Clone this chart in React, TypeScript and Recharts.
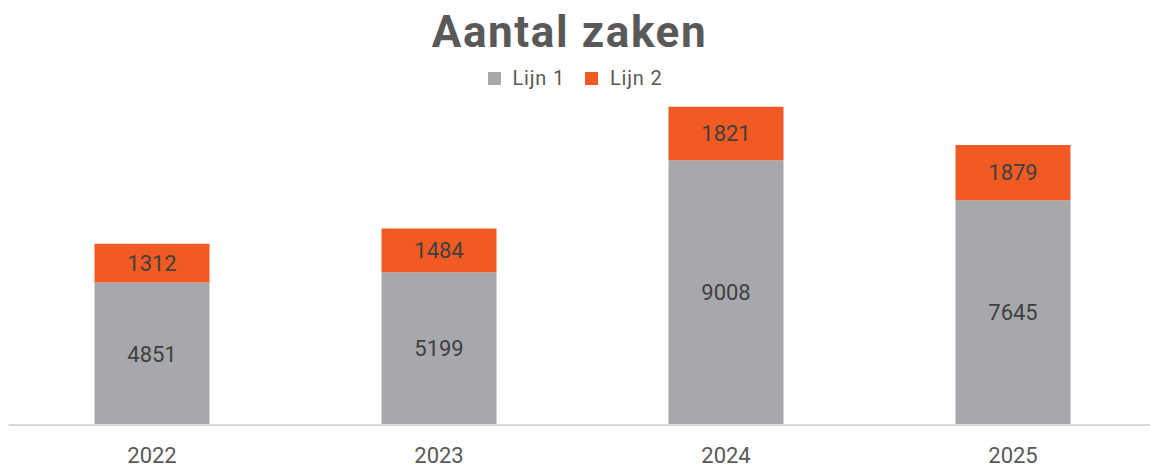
import { BarChart, Bar, XAxis, YAxis, Legend, LabelList } from 'recharts';

const years = ['2022', '2023', '2024', '2025'];
const lijn1 = [4851, 5199, 9008, 7645];
const lijn2 = [1312, 1484, 1821, 1879];

const GRAY = '#A7A8AB';
const ORANGE = '#F15A22';

const data = years.map((year, i) => ({ year, lijn1: lijn1[i], lijn2: lijn2[i] }));

const FONT = 'Roboto, "Open Sans", sans-serif';

const renderLegend = (props: any) => {
  const { payload } = props;
  return (
    <div style={{ display: 'flex', justifyContent: 'center', alignItems: 'center', gap: 20 }}>
      {payload.map((entry: any) => (
        <div key={entry.value} style={{ display: 'flex', alignItems: 'center' }}>
          <div style={{ width: 13, height: 13, backgroundColor: entry.color, marginRight: 12 }} />
          <span style={{ color: '#595959', fontSize: 20, letterSpacing: 0.8, lineHeight: '20px' }}>
            {entry.value}
          </span>
        </div>
      ))}
    </div>
  );
};

const App = () => {
  return (
    <div
      style={{
        position: 'relative',
        width: 1150,
        height: 467,
        overflow: 'hidden',
        background: '#fff',
        fontFamily: FONT,
      }}
    >
      <style>{`body { margin: 0; }`}</style>
      <div
        style={{
          position: 'absolute',
          left: 0,
          top: 10,
          width: 1139,
          textAlign: 'center',
          fontSize: 44,
          lineHeight: 1,
          fontWeight: 700,
          letterSpacing: 1.6,
          color: '#595959',
        }}
      >
        Aantal zaken
      </div>
      <BarChart
        width={1160}
        height={467}
        data={data}
        margin={{ top: 72.3, right: 3.5, left: 8.5, bottom: 0 }}
      >
        <XAxis
          dataKey="year"
          height={42}
          tickLine={false}
          tickSize={0}
          tickMargin={22}
          axisLine={{ stroke: '#D9D9D9', strokeWidth: 2 }}
          tick={{ fill: '#595959', fontSize: 22, fontFamily: FONT }}
        />
        <YAxis hide domain={[0, 12000]} />
        <Legend
          verticalAlign="middle"
          align="center"
          content={renderLegend}
          wrapperStyle={{ top: 68, left: 0, width: 1150, fontFamily: FONT }}
        />
        <Bar dataKey="lijn1" name="Lijn 1" stackId="a" fill={GRAY} barSize={115} isAnimationActive={false}>
          <LabelList dataKey="lijn1" position="center" fill="#404040" fontSize={22} fontFamily={FONT} />
        </Bar>
        <Bar dataKey="lijn2" name="Lijn 2" stackId="a" fill={ORANGE} barSize={115} isAnimationActive={false}>
          <LabelList dataKey="lijn2" position="center" fill="#404040" fontSize={22} fontFamily={FONT} />
        </Bar>
      </BarChart>
    </div>
  );
};

export default App;
